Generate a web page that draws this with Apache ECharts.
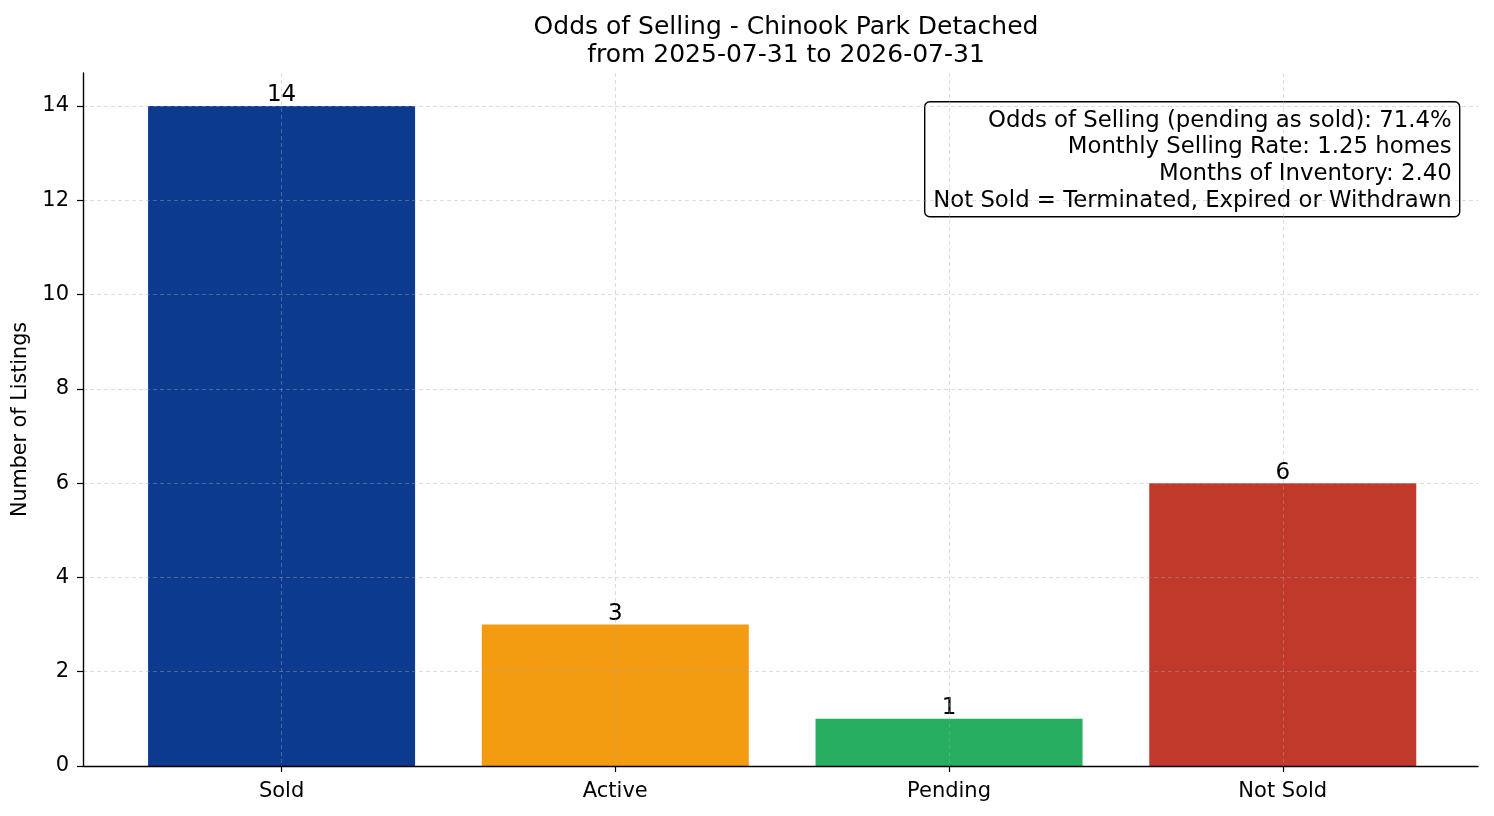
<!DOCTYPE html>
<html>
<head>
<meta charset="utf-8">
<script src="https://cdn.jsdelivr.net/npm/echarts@6/dist/echarts.min.js"></script>
<style>
  html, body { margin: 0; padding: 0; background: #fff; }
  #chart { width: 1494px; height: 816px; }
</style>
</head>
<body>
<div id="chart"></div>
<script>
'use strict';
// data
var categories = ['Sold', 'Active', 'Pending', 'Not Sold'];
var counts = [14, 3, 1, 6];
var barColors = ['#0B3A8E', '#F39C12', '#27AE60', '#C0392B'];
var yTicks = [0, 2, 4, 6, 8, 10, 12, 14];
var statLines = [
    'Odds of Selling (pending as sold): 71.4%',
    'Monthly Selling Rate: 1.25 homes',
    'Months of Inventory: 2.40',
    'Not Sold = Terminated, Expired or Withdrawn'
];
var titleLines = ['Odds of Selling - Chinook Park Detached', 'from 2025-07-31 to 2026-07-31'];

var FONT = 'DejaVu Sans';
var gridLine = { show: true, lineStyle: { color: 'rgba(170,170,170,0.5)', width: 0.8, type: [4, 3] } };

// stats box: frame + right aligned lines
var boxW = 535, boxH = 115, lineH = 26.7;
var boxChildren = [{
    type: 'rect',
    shape: { x: 0, y: 0, width: boxW, height: boxH, r: 5 },
    style: { fill: '#fff', stroke: '#000', lineWidth: 1.4 }
}];
statLines.forEach(function (t, i) {
    boxChildren.push({
        type: 'text',
        x: boxW - 8,
        y: 19 + i * lineH,
        style: {
            text: t,
            align: 'right',
            verticalAlign: 'middle',
            font: '22.8px "DejaVu Sans"',
            fill: '#000'
        }
    });
});

var myChart = echarts.init(document.getElementById('chart'));
var option = {
    backgroundColor: '#fff',
    animation: false,
    textStyle: { fontFamily: FONT },
    title: {
        text: titleLines.join('\n'),
        left: 781,
        textAlign: 'center',
        top: 8,
        textStyle: { fontFamily: FONT, fontSize: 25, fontWeight: 'normal', color: '#000', lineHeight: 28 }
    },
    grid: { left: 83, right: 16, top: 73, bottom: 50 },
    xAxis: {
        type: 'value',
        min: -0.595,
        max: 3.585,
        z: 3,
        axisLine: { show: true, onZero: false, lineStyle: { color: '#000', width: 1.4 } },
        axisTick: { show: true, length: 6, customValues: [0, 1, 2, 3], lineStyle: { color: '#000', width: 1.2 } },
        axisLabel: {
            customValues: [0, 1, 2, 3],
            color: '#000', fontSize: 21, margin: 15,
            formatter: function (v) { return categories[Math.round(v)]; }
        },
        splitLine: gridLine
    },
    yAxis: {
        type: 'value',
        min: 0,
        max: 14.7,
        z: 3,
        name: 'Number of Listings',
        nameLocation: 'middle',
        nameRotate: 90,
        nameGap: 47,
        nameTextStyle: { color: '#000', fontSize: 20.7, fontFamily: FONT },
        axisLine: { show: true, onZero: false, lineStyle: { color: '#000', width: 1.4 } },
        axisTick: { show: true, length: 6, customValues: yTicks, lineStyle: { color: '#000', width: 1.2 } },
        axisLabel: { customValues: yTicks, color: '#000', fontSize: 21, margin: 14 },
        splitLine: gridLine
    },
    series: [{
        type: 'bar',
        barWidth: 267,
        z: 2,
        data: counts.map(function (v, i) {
            return { value: [i, v], itemStyle: { color: barColors[i] } };
        }),
        label: {
            show: true,
            position: 'top',
            distance: -1,
            color: '#000',
            fontSize: 23,
            fontFamily: FONT,
            formatter: function (p) { return p.value[1]; }
        }
    }],
    graphic: [{
        type: 'group',
        left: 924,
        top: 101,
        z: 10,
        children: boxChildren
    }]
};
myChart.setOption(option);
</script>
</body>
</html>
